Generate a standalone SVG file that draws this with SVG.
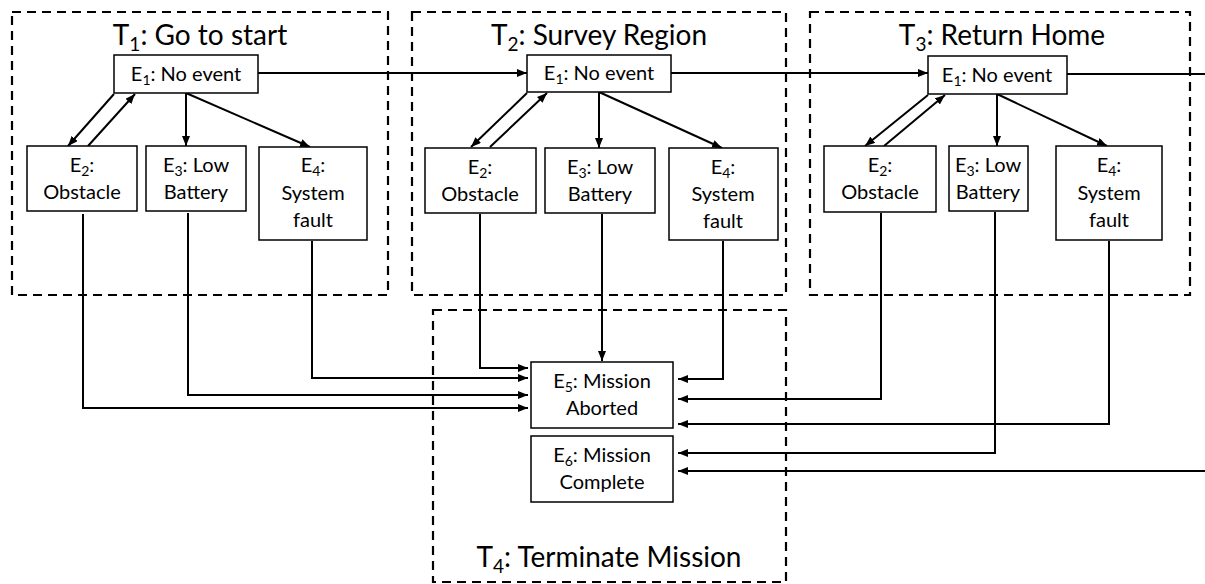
<svg xmlns="http://www.w3.org/2000/svg" width="1205" height="584" viewBox="0 0 1205 584">
<style>
.t{font-family:Lato,"Open Sans","Liberation Sans",sans-serif;fill:#000;text-anchor:middle}
.title{font-size:28px}
.lbl{font-size:20px}
.box{fill:#fff;stroke:#000;stroke-width:1.5}
.frame{fill:none;stroke:#000;stroke-width:2.2;stroke-dasharray:9,6}
.c{fill:none;stroke:#000;stroke-width:2}
</style>
<defs>
<marker id="ah" markerUnits="userSpaceOnUse" markerWidth="10" markerHeight="8" refX="10" refY="4" orient="auto">
<path d="M0,0 L10,4 L0,8 z" fill="#000"/>
</marker>
</defs>
<rect width="1205" height="584" fill="#fff"/>

<g id="T1">
<rect class="frame" x="12" y="12" width="376" height="283"/>
<text class="t title" x="200" y="45">T<tspan font-size="19" dy="6">1</tspan><tspan dy="-6">: Go to start</tspan></text>
</g>
<g id="T2">
<rect class="frame" x="412" y="12" width="374" height="283"/>
<text class="t title" x="599" y="45">T<tspan font-size="19" dy="6">2</tspan><tspan dy="-6">: Survey Region</tspan></text>
</g>
<g id="T3">
<rect class="frame" x="810" y="12" width="380" height="283"/>
<text class="t title" x="1002" y="45">T<tspan font-size="19" dy="6">3</tspan><tspan dy="-6">: Return Home</tspan></text>
</g>
<g id="T4">
<rect class="frame" x="433" y="310" width="353" height="272"/>
<text class="t title" x="609" y="567">T<tspan font-size="19" dy="6">4</tspan><tspan dy="-6">: Terminate Mission</tspan></text>
</g>

<g id="connectors">
<path class="c" d="M258,73 H527" marker-end="url(#ah)"/>
<path class="c" d="M671,73 H928" marker-end="url(#ah)"/>
<path class="c" d="M1067,74 H1205"/>

<path class="c" d="M114,94 L68,146" marker-end="url(#ah)"/>
<path class="c" d="M88,146 L135,94" marker-end="url(#ah)"/>
<path class="c" d="M186,93 V146" marker-end="url(#ah)"/>
<path class="c" d="M186,93 L310,147" marker-end="url(#ah)"/>

<path class="c" d="M527,93 L471,147" marker-end="url(#ah)"/>
<path class="c" d="M490,147 L547,93" marker-end="url(#ah)"/>
<path class="c" d="M599,92 V148" marker-end="url(#ah)"/>
<path class="c" d="M599,92 L722,148" marker-end="url(#ah)"/>

<path class="c" d="M928,95 L865,146" marker-end="url(#ah)"/>
<path class="c" d="M884,146 L945,95" marker-end="url(#ah)"/>
<path class="c" d="M997,94 V146" marker-end="url(#ah)"/>
<path class="c" d="M997,94 L1107,146" marker-end="url(#ah)"/>

<path class="c" d="M83,214 V408 H528" marker-end="url(#ah)"/>
<path class="c" d="M188,213 V395 H528" marker-end="url(#ah)"/>
<path class="c" d="M312,241 V378 H528" marker-end="url(#ah)"/>
<path class="c" d="M480,214 V368 H528" marker-end="url(#ah)"/>
<path class="c" d="M602,214 V361" marker-end="url(#ah)"/>
<path class="c" d="M723,241 V379 H678" marker-end="url(#ah)"/>
<path class="c" d="M881,213 V399 H678" marker-end="url(#ah)"/>
<path class="c" d="M1109,241 V424 H678" marker-end="url(#ah)"/>
<path class="c" d="M995,212 V453 H678" marker-end="url(#ah)"/>
<path class="c" d="M1205,471 H678" marker-end="url(#ah)"/>
</g>

<g id="T1_E1"><rect class="box" x="114" y="55" width="144" height="38"/>
<text class="t lbl" x="186" y="81">E<tspan font-size="14" dy="4">1</tspan><tspan dy="-4">: No event</tspan></text></g>
<g id="T1_E2"><rect class="box" x="27" y="146" width="110" height="65"/>
<text class="t lbl" x="82" y="172">E<tspan font-size="14" dy="4">2</tspan><tspan dy="-4">:</tspan></text>
<text class="t lbl" x="82" y="199">Obstacle</text></g>
<g id="T1_E3"><rect class="box" x="146" y="146" width="100" height="65"/>
<text class="t lbl" x="196" y="172">E<tspan font-size="14" dy="4">3</tspan><tspan dy="-4">: Low</tspan></text>
<text class="t lbl" x="196" y="199">Battery</text></g>
<g id="T1_E4"><rect class="box" x="259" y="147" width="108" height="93"/>
<text class="t lbl" x="313" y="172">E<tspan font-size="14" dy="4">4</tspan><tspan dy="-4">:</tspan></text>
<text class="t lbl" x="313" y="200">System</text>
<text class="t lbl" x="313" y="227">fault</text></g>

<g id="T2_E1"><rect class="box" x="527" y="55" width="144" height="37"/>
<text class="t lbl" x="599" y="80">E<tspan font-size="14" dy="4">1</tspan><tspan dy="-4">: No event</tspan></text></g>
<g id="T2_E2"><rect class="box" x="425" y="148" width="111" height="65"/>
<text class="t lbl" x="480" y="174">E<tspan font-size="14" dy="4">2</tspan><tspan dy="-4">:</tspan></text>
<text class="t lbl" x="480" y="201">Obstacle</text></g>
<g id="T2_E3"><rect class="box" x="545" y="148" width="110" height="65"/>
<text class="t lbl" x="600" y="174">E<tspan font-size="14" dy="4">3</tspan><tspan dy="-4">: Low</tspan></text>
<text class="t lbl" x="600" y="201">Battery</text></g>
<g id="T2_E4"><rect class="box" x="669" y="148" width="109" height="92"/>
<text class="t lbl" x="723" y="174">E<tspan font-size="14" dy="4">4</tspan><tspan dy="-4">:</tspan></text>
<text class="t lbl" x="723" y="201">System</text>
<text class="t lbl" x="723" y="228">fault</text></g>

<g id="T3_E1"><rect class="box" x="928" y="56" width="139" height="38"/>
<text class="t lbl" x="997" y="82">E<tspan font-size="14" dy="4">1</tspan><tspan dy="-4">: No event</tspan></text></g>
<g id="T3_E2"><rect class="box" x="824" y="146" width="112" height="66"/>
<text class="t lbl" x="880" y="172">E<tspan font-size="14" dy="4">2</tspan><tspan dy="-4">:</tspan></text>
<text class="t lbl" x="880" y="199">Obstacle</text></g>
<g id="T3_E3"><rect class="box" x="949" y="146" width="79" height="65"/>
<text class="t lbl" x="988" y="172">E<tspan font-size="14" dy="4">3</tspan><tspan dy="-4">: Low</tspan></text>
<text class="t lbl" x="988" y="199">Battery</text></g>
<g id="T3_E4"><rect class="box" x="1056" y="146" width="106" height="94"/>
<text class="t lbl" x="1109" y="172">E<tspan font-size="14" dy="4">4</tspan><tspan dy="-4">:</tspan></text>
<text class="t lbl" x="1109" y="200">System</text>
<text class="t lbl" x="1109" y="227">fault</text></g>

<g id="E5"><rect class="box" x="531" y="362" width="142" height="66"/>
<text class="t lbl" x="602" y="388">E<tspan font-size="14" dy="4">5</tspan><tspan dy="-4">: Mission</tspan></text>
<text class="t lbl" x="602" y="415">Aborted</text></g>
<g id="E6"><rect class="box" x="531" y="436" width="142" height="66"/>
<text class="t lbl" x="602" y="462">E<tspan font-size="14" dy="4">6</tspan><tspan dy="-4">: Mission</tspan></text>
<text class="t lbl" x="602" y="489">Complete</text></g>
</svg>
